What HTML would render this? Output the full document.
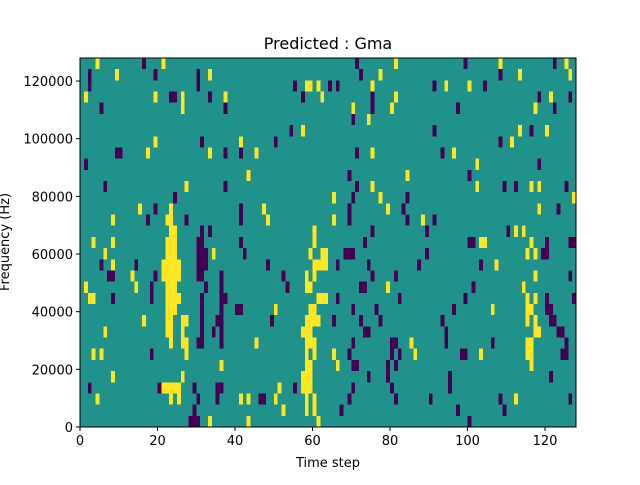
<!DOCTYPE html>
<html><head><meta charset="utf-8"><style>
body{margin:0;background:#fff}
svg text{font-family:"DejaVu Sans","Liberation Sans",sans-serif;fill:#000}
</style></head><body>
<svg id="chart" width="640" height="480" viewBox="0 0 640 480" xmlns="http://www.w3.org/2000/svg">
<rect width="640" height="480" fill="#fff"/>
<text x="328" y="49" font-size="16" text-anchor="middle">Predicted : Gma</text>
<g id="cells"></g>
<g id="axes"></g>
<text x="328" y="467" font-size="13" text-anchor="middle">Time step</text>
<text transform="translate(9,242) rotate(-90)" font-size="13" text-anchor="middle">Frequency (Hz)</text>
</svg>
<script>
const nRows = 33, nCols = 128;
const xTicks = [0,20,40,60,80,100,120];
const yTicks = [0,20000,40000,60000,80000,100000,120000];
const yMax = 128000;
// [rowFromTop, colStart, colEnd]
const yellowCells = [
[0,4,4],[0,21,21],[0,81,81],[0,108,108],[0,125,125],
[1,9,9],[1,33,33],[1,77,77],[1,113,113],[1,126,126],
[2,58,59],[2,61,61],[2,75,75],[2,94,94],[2,100,100],
[3,1,1],[3,19,19],[3,26,26],[3,37,37],[3,62,62],[3,81,81],[3,121,121],
[4,26,26],[4,70,70],[4,80,80],[4,117,117],
[5,74,74],
[6,57,57],[6,113,113],[6,120,120],
[7,19,19],[7,41,41],[7,111,111],
[8,17,17],[8,33,33],[8,45,45],[8,75,75],[8,96,96],
[9,102,102],
[10,43,43],[10,84,84],
[11,27,27],[11,75,75],[11,102,102],[11,116,116],[11,118,118],
[12,65,65],[12,77,77],[12,127,127],
[13,15,15],[13,23,23],[13,47,47],[13,79,79],[13,118,118],
[14,8,8],[14,22,23],[14,48,48],[14,65,65],[14,88,88],
[15,23,24],[15,60,60],[15,112,112],[15,114,114],
[16,3,3],[16,8,8],[16,22,24],[16,60,60],[16,103,104],[16,116,116],
[17,6,6],[17,22,24],[17,34,34],[17,59,59],[17,62,63],[17,115,115],[17,117,117],
[18,8,8],[18,21,25],[18,60,63],[18,107,107],
[19,13,13],[19,21,25],[19,58,58],[19,60,60],[19,117,117],
[20,1,1],[20,14,14],[20,22,24],[20,58,59],[20,79,79],[20,114,114],
[21,2,3],[21,22,25],[21,61,63],[21,115,115],[21,117,117],
[22,22,24],[22,50,50],[22,59,60],[22,106,106],[22,115,116],
[23,16,16],[23,22,23],[23,26,27],[23,58,61],[23,115,115],[23,117,117],
[24,6,6],[24,22,23],[24,26,26],[24,57,59],[24,117,118],
[25,23,23],[25,26,27],[25,45,45],[25,58,60],[25,85,85],[25,115,116],
[26,3,3],[26,5,5],[26,27,27],[26,58,58],[26,60,60],[26,65,65],[26,86,86],[26,103,103],[26,115,116],
[27,36,36],[27,58,59],[27,66,66],[27,116,116],
[28,8,8],[28,26,26],[28,57,59],
[29,21,25],[29,51,51],[29,57,59],
[30,4,4],[30,23,23],[30,25,25],[30,41,41],[30,43,43],[30,50,50],[30,58,58],[30,60,60],[30,112,112],
[31,52,52],[31,58,58],[31,60,60],
[32,33,33],[32,43,43],[32,61,61]
];
const purpleCells = [
[0,16,16],[0,71,71],[0,99,99],[0,122,122],
[1,2,2],[1,19,19],[1,30,30],[1,72,72],[1,108,108],
[2,2,2],[2,30,30],[2,55,55],[2,64,64],[2,66,66],[2,91,91],[2,104,104],
[3,23,24],[3,33,33],[3,57,57],[3,75,75],[3,118,118],[3,126,126],
[4,5,5],[4,37,37],[4,75,75],[4,97,97],[4,122,122],
[5,70,70],
[6,54,54],[6,91,91],[6,116,116],
[7,31,31],[7,50,50],[7,108,108],
[8,9,10],[8,37,37],[8,41,41],[8,71,71],[8,93,93],
[9,1,1],[9,118,118],
[10,69,69],[10,100,100],
[11,6,6],[11,37,37],[11,71,71],[11,109,109],[11,112,112],[11,125,125],
[12,24,24],[12,70,70],[12,84,84],
[13,19,19],[13,41,41],[13,69,69],[13,83,83],[13,123,123],
[14,17,17],[14,27,27],[14,41,41],[14,69,69],[14,84,84],[14,91,91],
[15,31,31],[15,33,33],[15,75,75],[15,89,89],[15,110,110],
[16,30,31],[16,41,41],[16,73,73],[16,100,101],[16,120,120],[16,126,127],
[17,30,32],[17,42,42],[17,68,70],[17,89,89],[17,119,120],
[18,5,5],[18,14,14],[18,30,32],[18,48,48],[18,66,66],[18,74,74],[18,87,87],[18,103,103],
[19,7,8],[19,19,19],[19,30,31],[19,36,36],[19,52,52],[19,75,75],[19,81,81],[19,126,126],
[20,18,18],[20,32,32],[20,36,36],[20,53,53],[20,72,73],[20,101,101],
[21,8,8],[21,18,18],[21,31,31],[21,36,37],[21,66,66],[21,82,82],[21,99,99],[21,120,120],[21,127,127],
[22,31,31],[22,36,36],[22,40,41],[22,70,70],[22,76,76],[22,96,96],[22,120,121],
[23,31,31],[23,35,36],[23,49,49],[23,65,65],[23,72,72],[23,77,77],[23,93,93],[23,121,122],
[24,31,31],[24,34,34],[24,36,36],[24,73,74],[24,94,94],[24,123,124],
[25,30,31],[25,36,36],[25,70,70],[25,80,81],[25,94,94],[25,106,106],[25,125,125],
[26,18,18],[26,69,69],[26,80,80],[26,82,82],[26,98,99],[26,124,125],
[27,70,71],[27,79,79],[27,81,81],
[28,74,74],[28,79,79],[28,95,95],[28,121,121],
[29,2,2],[29,20,20],[29,29,29],[29,35,36],[29,55,55],[29,70,70],[29,80,80],[29,95,95],
[30,30,30],[30,35,35],[30,46,47],[30,69,69],[30,81,81],[30,90,90],[30,108,108],[30,126,126],
[31,29,29],[31,67,67],[31,97,97],[31,109,109],
[32,28,30],[32,100,100]
];
const L=80,R=576,T=58,B=427;
const NS="http://www.w3.org/2000/svg";
function xScale(v){return L+(v/nCols)*(R-L);}
function yScale(v){return B-(v/yMax)*(B-T);}
const rowH=yMax/nRows;
function rowTop(t){return yScale((nRows-t)*rowH);}
const cells=document.getElementById('cells');
function mk(tag,attrs,parent){const e=document.createElementNS(NS,tag);for(const k in attrs)e.setAttribute(k,attrs[k]);parent.appendChild(e);return e;}
const bg=mk('rect',{x:L,y:T,width:R-L,height:B-T,fill:'#21918c'},cells);


function drawCells(list,color,name){
  list.forEach(function(c){
    const x0=xScale(c[1]),x1=xScale(c[2]+1),y0=rowTop(c[0]),y1=rowTop(c[0]+1);
    const r=mk('rect',{x:x0,y:y0,width:x1-x0,height:y1-y0,fill:color,'shape-rendering':'crispEdges'},cells);
    
    
  });
}
drawCells(yellowCells,'#fde725','cell-high');
drawCells(purpleCells,'#440154','cell-low');
const axes=document.getElementById('axes');
const frame=mk('rect',{x:L,y:T,width:R-L,height:B-T,fill:'none',stroke:'#000','stroke-width':1},axes);


xTicks.forEach(function(v){
  const x=xScale(v);
  const tk=mk('line',{x1:x,x2:x,y1:B,y2:B+4,stroke:'#000'},axes);
  
  
  const t=mk('text',{x:x,y:B+18,'font-size':13,'text-anchor':'middle'},axes);
  t.textContent=v;
  
  
});
yTicks.forEach(function(v){
  const y=yScale(v);
  const tk=mk('line',{x1:L-4,x2:L,y1:y,y2:y,stroke:'#000'},axes);
  
  
  const t=mk('text',{x:L-7,y:y+5,'font-size':13,'text-anchor':'end'},axes);
  t.textContent=v;
  
  
});
</script>
</body></html>
